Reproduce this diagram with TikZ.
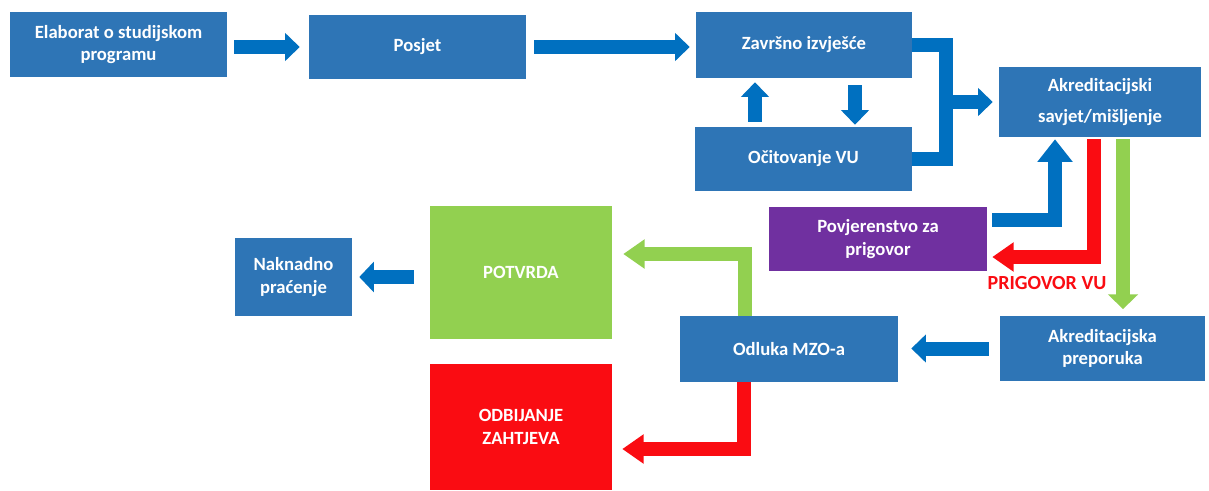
\documentclass[tikz,border=0pt]{standalone}
\usepackage{fontspec}
\setmainfont{Carlito}
\usepackage{xcolor}
\usetikzlibrary{arrows.meta,calc}

\definecolor{boxblue}{RGB}{46,117,182}
\definecolor{arrblue}{RGB}{0,112,192}
\definecolor{okgreen}{RGB}{146,208,80}
\definecolor{nored}{RGB}{250,12,18}
\definecolor{objpurple}{RGB}{112,48,160}

\begin{document}
\begin{tikzpicture}[x=0.75pt,y=0.75pt,yscale=-1,xscale=1,
  box/.style={fill=boxblue, text=white, font=\fontsize{14}{17}\selectfont\bfseries, align=center, inner sep=0pt},
  arr/.style={line width=10.5pt, arrblue, -{Triangle[width=20.5pt,length=11pt]}},
  bent/.style={line width=10.5pt, line join=miter, -{Triangle[width=21pt,length=16pt]}}
]
\useasboundingbox (0,0) rectangle (1209,490);
\fill[white] (0,0) rectangle (1209,490);

%Shape: Rectangle [first row]
\node[box, minimum width=162.75pt, minimum height=48.75pt] (elab) at (118.5,44.5) {Elaborat o studijskom\\programu};
\node[box, minimum width=162.75pt, minimum height=48pt] (posjet) at (417.5,47) {Posjet};
\node[box, minimum width=162pt, minimum height=49.5pt] (zavrs) at (804,45) {Završno izvješće};
\node[box, minimum width=162.75pt, minimum height=48pt] (ocit) at (803.5,159) {Očitovanje VU};
\node[box, minimum width=151.5pt, minimum height=52.5pt] (savjet) at (1100,102) {Akreditacijski\\[6pt]savjet/mišljenje};
%Shape: Rectangle [objection]
\node[box, fill=objpurple, minimum width=163.5pt, minimum height=48pt] (povj) at (878,239) {Povjerenstvo za\\prigovor};
%Shape: Rectangle [decision row]
\node[box, minimum width=153.75pt, minimum height=48.75pt] (prep) at (1102.5,348.5) {Akreditacijska\\preporuka};
\node[box, minimum width=163.5pt, minimum height=49.5pt] (odluka) at (789,349) {Odluka MZO-a};
\node[box, fill=okgreen, minimum width=136.5pt, minimum height=99.75pt] (potvrda) at (521,272.5) {POTVRDA};
\node[box, fill=nored, minimum width=136.5pt, minimum height=94.5pt] (odbij) at (521,427) {ODBIJANJE\\ZAHTJEVA};
\node[box, minimum width=87.75pt, minimum height=58.5pt] (nakn) at (293.5,277) {Naknadno\\praćenje};

% Text Node
\node[font=\fontsize{15}{18}\selectfont\bfseries, text=nored] (prig) at (1047,283) {PRIGOVOR VU};

%Straight Lines [first row]
\draw[arr, shorten <=5.25pt, shorten >=6.75pt] (elab.east |- posjet.west) -- (posjet.west);
\draw[arr, shorten <=6pt, shorten >=4.5pt] (posjet.east) -- (posjet.east -| zavrs.west);
\draw[arr] ($(ocit.north)+(-48.5,-5)$) -- ($(zavrs.south)+(-49,4)$);
\draw[arr] ($(zavrs.south)+(51,7)$) -- ($(ocit.north)+(51.5,-2)$);
%Bracket to the council
\coordinate (merge) at ($(zavrs.east)!0.5!(ocit.east)+(34,0)$);
\draw[line width=10.5pt, arrblue, line join=miter] (zavrs.east) -| (merge) |- (ocit.east);
\draw[arr, shorten >=4.5pt] (merge) -- (merge -| savjet.west);

%Bent Lines [objection loop]
\draw[bent, arrblue, -{Triangle[width=25.5pt,length=17pt]}, shorten >=1.5pt] ($(povj.east)+(5,-19)$) -| ($(savjet.south)+(-45,0)$);
\draw[bent, nored] ($(savjet.south)+(-6,2)$) |- ($(povj.east)+(5,18)$);
\draw[arr, okgreen, line width=11pt, -{Triangle[width=22pt,length=11pt]}, shorten >=5pt] ($(savjet.south)+(23,2)$) -- ($(prep.north)+(20.5,0)$);

%Straight Lines [decision]
\draw[arr, shorten <=8.25pt, shorten >=9.75pt] (prep.west) -- (prep.west -| odluka.east);
\draw[bent, okgreen] ($(odluka.north)+(-44,0)$) |- ($(potvrda.east)+(11,-18.5)$);
\draw[bent, nored] ($(odluka.south)+(-45,0)$) |- ($(odbij.east)+(10,22)$);
\draw[arr, -{Triangle[width=22.5pt,length=11pt]}, shorten <=12pt, shorten >=5.25pt] (potvrda.west |- nakn.east) -- (nakn.east);

\end{tikzpicture}
\end{document}
